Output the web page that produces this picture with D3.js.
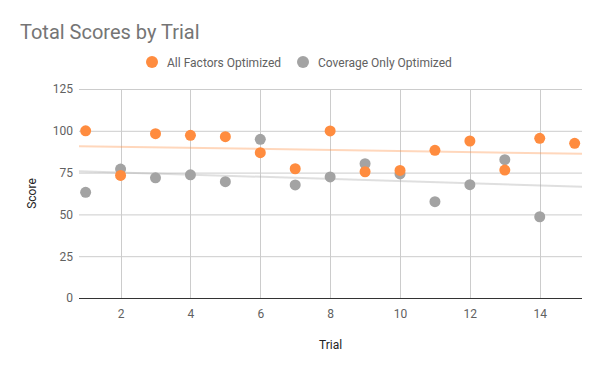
<!DOCTYPE html>
<html>
<head>
<meta charset="utf-8">
<script src="https://cdn.jsdelivr.net/npm/d3@7"></script>
<style>
  body { margin: 0; background: #fff; }
  svg text { font-family: Roboto, "Noto Sans", sans-serif; }
</style>
</head>
<body>
<main></main>
<script>
    // data
    const trials=[1,2,3,4,5,6,7,8,9,10,11,12,13,14,15];
    const allFactors=[100,73.3,98.3,97.3,96.5,86.9,77.3,99.9,75.5,76.3,88.3,93.9,76.5,95.5,92.5];
    const coverageOnly=[63.2,77.1,71.9,73.7,69.6,94.9,67.6,72.4,80.3,74.2,57.6,67.8,82.7,48.6];
    const yTicks=[0,25,50,75,100,125];
    const xTicks=[2,4,6,8,10,12,14];
    const seriesNames=["All Factors Optimized","Coverage Only Optimized"];
    const colors=["#ff8c3f","#a3a3a3"];

    const sizeOfSVG={ width: 600, height: 371 };
    const plot={ left: 79, right: 582, top: 89, bottom: 298 };

    const svg=d3.select('main')
                .append('svg')
                .attr('width',sizeOfSVG.width)
                .attr('height',sizeOfSVG.height)

    const xScale=d3.scaleLinear()
                    .domain([0.81,15.21])
                    .range([plot.left,plot.right])
    const yScale=d3.scaleLinear()
                    .domain([0,125])
                    .range([plot.bottom,plot.top])

    // title
    svg.append('text')
        .attr('x',20).attr('y',39)
        .attr('font-size',20)
        .attr('fill','#757575')
        .text("Total Scores by Trial")

    // legend
    const legendX=[152,303];
    seriesNames.forEach((name,i)=>{
        svg.append('circle')
            .attr('cx',legendX[i]).attr('cy',62).attr('r',6)
            .attr('fill',colors[i])
        svg.append('text')
            .attr('x',legendX[i]+15).attr('y',66.5)
            .attr('font-size',12)
            .attr('fill','#616161')
            .text(name)
    });

    // gridlines
    svg.append('g')
        .selectAll('line')
        .data(yTicks.filter(d=>d>0))
        .enter().append('line')
            .attr('x1',plot.left).attr('x2',plot.right)
            .attr('y1',d=>yScale(d)+0.5).attr('y2',d=>yScale(d)+0.5)
            .attr('stroke','#cccccc')
    svg.append('g')
        .selectAll('line')
        .data(xTicks)
        .enter().append('line')
            .attr('x1',d=>Math.round(xScale(d))+0.5).attr('x2',d=>Math.round(xScale(d))+0.5)
            .attr('y1',plot.top).attr('y2',plot.bottom)
            .attr('stroke','#cccccc')

    // axes (labels only)
    const yAxis=svg.append('g')
        .attr('transform',`translate(${plot.left - 6},0)`)
        .call(d3.axisLeft(yScale).tickValues(yTicks).tickSize(0).tickPadding(0))
    yAxis.select('.domain').remove()
    yAxis.selectAll('text').attr('font-size',12).attr('fill','#616161').attr('font-family','Roboto')

    const xAxis=svg.append('g')
        .attr('transform',`translate(0,${plot.bottom + 11})`)
        .call(d3.axisBottom(xScale).tickValues(xTicks).tickSize(0).tickPadding(0))
    xAxis.select('.domain').remove()
    xAxis.selectAll('text').attr('font-size',12).attr('fill','#616161').attr('font-family','Roboto')

    // baseline
    svg.append('line')
        .attr('x1',plot.left).attr('x2',plot.right)
        .attr('y1',plot.bottom+0.5).attr('y2',plot.bottom+0.5)
        .attr('stroke','#333333')

    // axis titles
    svg.append('text')
        .attr('x',(plot.left+plot.right)/2).attr('y',349)
        .attr('text-anchor','middle').attr('font-size',12).attr('fill','#222')
        .text("Trial")
    svg.append('text')
        .attr('transform',`translate(36,${(plot.top+plot.bottom)/2}) rotate(-90)`)
        .attr('text-anchor','middle').attr('font-size',12).attr('fill','#222')
        .text("Score")

    // linear trendlines
    const trend=(vals)=>{
        const xs=vals.map((d,i)=>trials[i]);
        const mx=d3.mean(xs), my=d3.mean(vals);
        const slope=d3.sum(xs,(x,i)=>(x-mx)*(vals[i]-my))/d3.sum(xs,x=>(x-mx)*(x-mx));
        return x=>my+slope*(x-mx);
    }
    const allSeries=[allFactors,coverageOnly];
    allSeries.forEach((vals,i)=>{
        const f=trend(vals);
        const dom=xScale.domain();
        svg.append('line')
            .attr('x1',xScale(dom[0])).attr('y1',yScale(f(dom[0])))
            .attr('x2',xScale(dom[1])).attr('y2',yScale(f(dom[1])))
            .attr('stroke',colors[i])
            .attr('stroke-opacity',0.35)
            .attr('stroke-width',2)
    });

    // points (grey first, orange on top)
    [1,0].forEach(i=>{
        svg.append('g')
            .selectAll('circle')
            .data(allSeries[i])
            .enter().append('circle')
                .attr('cx',(d,j)=>xScale(trials[j]))
                .attr('cy',d=>yScale(d))
                .attr('r',5.5)
                .attr('fill',colors[i])
    });
</script>
</body>
</html>
